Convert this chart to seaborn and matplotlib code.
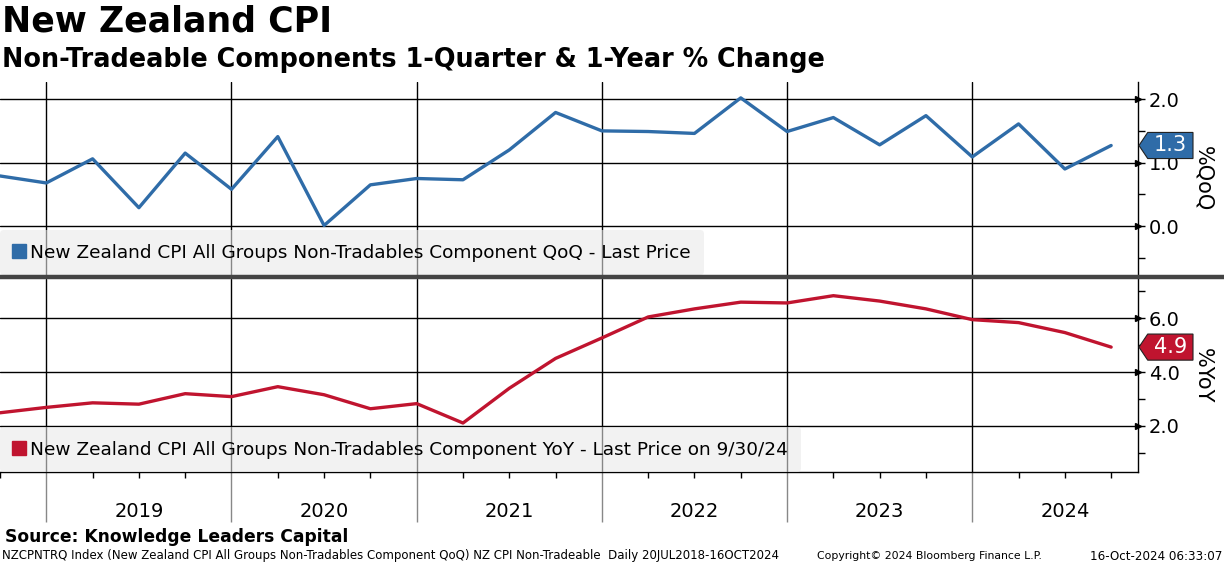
import numpy as np
import pandas as pd
import matplotlib
matplotlib.use('Agg')
import matplotlib.pyplot as plt
import matplotlib.transforms as mtransforms
import seaborn as sns
from matplotlib.lines import Line2D
from matplotlib.patches import Polygon
from matplotlib.ticker import FixedLocator, FuncFormatter

# Datos trimestrales (3T2018 a 3T2024)
trimestres = ['2018Q3', '2018Q4', '2019Q1', '2019Q2', '2019Q3', '2019Q4', '2020Q1', '2020Q2', '2020Q3',
              '2020Q4', '2021Q1', '2021Q2', '2021Q3', '2021Q4', '2022Q1', '2022Q2', '2022Q3', '2022Q4',
              '2023Q1', '2023Q2', '2023Q3', '2023Q4', '2024Q1', '2024Q2', '2024Q3']
qoq = [0.79, 0.68, 1.06, 0.29, 1.15, 0.58, 1.41, 0.01, 0.65, 0.75, 0.73, 1.20, 1.79, 1.50, 1.49,
       1.46, 2.02, 1.49, 1.71, 1.28, 1.74, 1.09, 1.61, 0.90, 1.27]
yoy = [2.49, 2.69, 2.86, 2.81, 3.20, 3.09, 3.46, 3.16, 2.64, 2.83, 2.11, 3.40, 4.51, 5.27, 6.05,
       6.35, 6.60, 6.57, 6.84, 6.64, 6.35, 5.95, 5.84, 5.47, 4.93]
anios = ['2019', '2020', '2021', '2022', '2023', '2024']

azul = '#2f6ca8'
rojo = '#c0142f'

sns.set_style('white')
plt.rcParams['font.family'] = ['DejaVu Sans']
plt.rcParams['text.color'] = 'black'
plt.rcParams['axes.labelcolor'] = 'black'
plt.rcParams['xtick.color'] = 'black'
plt.rcParams['ytick.color'] = 'black'

df = pd.DataFrame({'t': np.arange(len(trimestres)), 'qoq': qoq, 'yoy': yoy})

fig = plt.figure(figsize=(12.24, 5.66), dpi=100)
ax1 = fig.add_axes([0.0, 1 - 275 / 566, 1138 / 1224, (275 - 82) / 566])
ax2 = fig.add_axes([0.0, 1 - 472 / 566, 1138 / 1224, (472 - 279) / 566])

limites_anio = [1 + 4 * k for k in range(len(anios))]  # inicio de cada año
centros_anio = [3 + 4 * k for k in range(len(anios))]

paneles = [
    (ax1, 'qoq', azul, (-0.77, 2.27), [0, 1, 2], 0.5, '%QoQ',
     'New Zealand CPI All Groups Non-Tradables Component QoQ - Last Price', '1.3'),
    (ax2, 'yoy', rojo, (0.29, 7.46), [2, 4, 6], 1.0, '%YoY',
     'New Zealand CPI All Groups Non-Tradables Component YoY - Last Price on 9/30/24', '4.9'),
]

for ax, col, color, ylim, yticks, paso_menor, ylabel, leyenda, etiqueta in paneles:
    sns.lineplot(data=df, x='t', y=col, ax=ax, color=color, linewidth=2.4, legend=False)
    ax.set_xlim(0, 24.58)
    ax.set_ylim(*ylim)
    ax.set_xlabel('')
    ax.yaxis.tick_right()
    ax.yaxis.set_label_position('right')
    ax.set_yticks(yticks)
    ax.set_yticklabels([f'{v:.1f}' for v in yticks])
    menores = np.arange(np.ceil(ylim[0] / paso_menor) * paso_menor, ylim[1], paso_menor)
    ax.yaxis.set_minor_locator(FixedLocator([m for m in menores if m not in yticks]))
    ax.tick_params(axis='y', which='major', length=5, width=1, direction='out', labelsize=14, pad=3)
    ax.tick_params(axis='y', which='minor', length=5, width=1, direction='out', right=True)
    ax.set_ylabel(ylabel, rotation=270, fontsize=15, labelpad=24)
    # flechitas en los ticks principales
    ax.plot([1.0] * len(yticks), yticks, ls='none', marker='>', ms=5, color='black',
            transform=ax.get_yaxis_transform(), clip_on=False)
    ax.grid(False)
    for v in yticks:
        ax.axhline(v, color='black', lw=1, zorder=1)
    for b in limites_anio:
        ax.axvline(b, color='black', lw=1, zorder=1)
    for s in ['top', 'left', 'bottom']:
        ax.spines[s].set_visible(False)
    ax.spines['right'].set_color('black')
    ax.spines['right'].set_linewidth(1)
    # leyenda con fondo gris semitransparente
    h = Line2D([], [], ls='none', marker='s', ms=10, color=color)
    lg = ax.legend([h], [leyenda], loc='lower left', bbox_to_anchor=(0, 0), borderaxespad=0,
                   fontsize=13.3, frameon=True, fancybox=True, borderpad=0.72,
                   handlelength=0.6, handletextpad=0.3, framealpha=0.58)
    lg.get_frame().set_facecolor('#e9e9e9')
    lg.get_frame().set_edgecolor('none')
    # etiqueta del último valor (forma de etiqueta con punta a la izquierda, en puntos)
    ultimo = df[col].iloc[-1]
    tr = (mtransforms.Affine2D().scale(1 / 72.) + fig.dpi_scale_trans +
          mtransforms.ScaledTranslation(1.0, ultimo, ax.get_yaxis_transform()))
    tag = Polygon([(0.7, 0), (7, 9.4), (39.6, 9.4), (39.6, -9.4), (7, -9.4)], closed=True,
                  fc=color, ec='#222222', lw=0.8, transform=tr, clip_on=False, zorder=5)
    ax.add_patch(tag)
    ax.text(23.3, 0, etiqueta, transform=tr, ha='center', va='center', color='white',
            fontsize=15, zorder=6, clip_on=False)

ax1.set_xticks([])
ax1.tick_params(axis='x', bottom=False, labelbottom=False)

ax2.spines['bottom'].set_visible(True)
ax2.spines['bottom'].set_color('black')
ax2.spines['bottom'].set_linewidth(1)
ax2.set_xticks(limites_anio)
ax2.set_xticklabels([''] * len(limites_anio))
menores_x = [i for i in range(25) if i not in limites_anio]
ax2.xaxis.set_minor_locator(FixedLocator(menores_x))
ax2.xaxis.set_minor_formatter(FuncFormatter(
    lambda v, p: anios[centros_anio.index(int(round(v)))] if int(round(v)) in centros_anio else ''))
ax2.tick_params(axis='x', which='major', length=36, width=1, color='#888888', direction='out', bottom=True)
ax2.tick_params(axis='x', which='minor', length=4, width=1, color='black', direction='out',
                bottom=True, labelsize=14, pad=17.5)

# separador entre paneles
fig.add_artist(Line2D([0, 1], [1 - 277 / 566, 1 - 277 / 566], transform=fig.transFigure,
                      color='#444444', lw=3.2))

fig.text(0.002, 1 - 22 / 566, 'New Zealand CPI', fontsize=25, weight='bold', va='center')
fig.text(0.002, 1 - 60 / 566, 'Non-Tradeable Components 1-Quarter & 1-Year % Change',
         fontsize=18.4, weight='bold', va='center')
fig.text(5 / 1224, 1 - 537 / 566, 'Source: Knowledge Leaders Capital', fontsize=12.3, weight='bold', va='center')
fig.text(2 / 1224, 1 - 556 / 566,
         'NZCPNTRQ Index (New Zealand CPI All Groups Non-Tradables Component QoQ) NZ CPI Non-Tradeable  Daily 20JUL2018-16OCT2024',
         fontsize=8.5, va='center')
fig.text(817 / 1224, 1 - 556 / 566, 'Copyright© 2024 Bloomberg Finance L.P.', fontsize=7.8, va='center')
fig.text(1222 / 1224, 1 - 556 / 566, '16-Oct-2024 06:33:07', fontsize=8.6, va='center', ha='right')

fig.savefig('out.png', dpi=100)
